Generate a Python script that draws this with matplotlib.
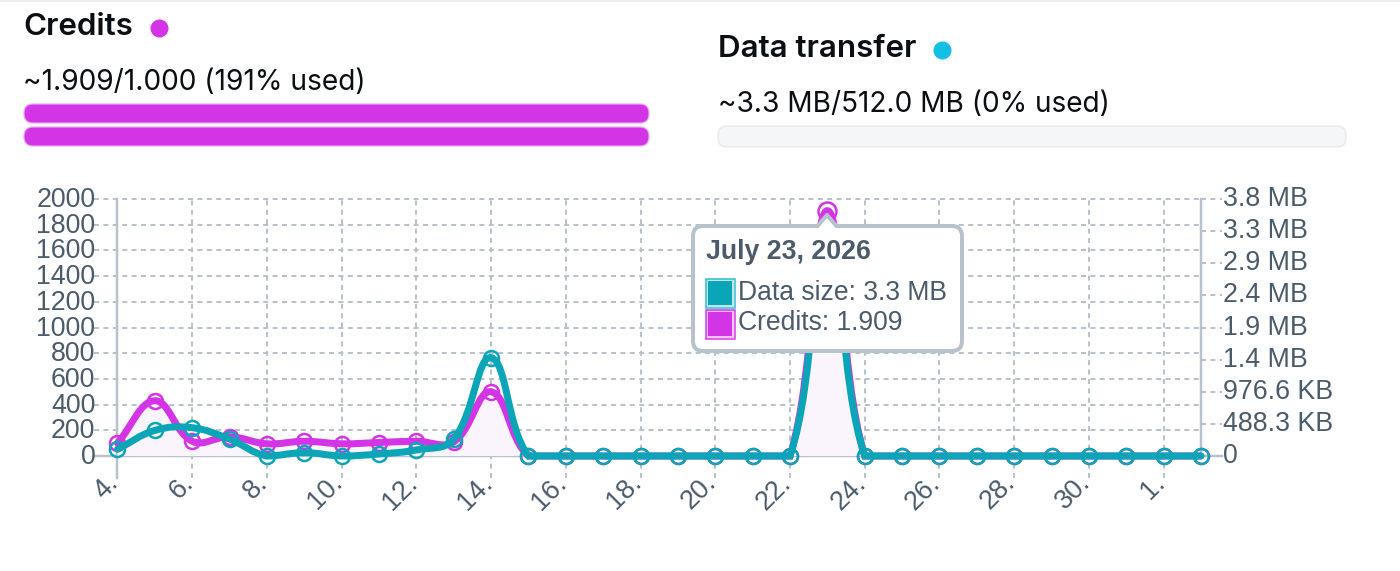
"""Usage dashboard: credits and data transfer, with a daily chart and tooltip."""
import matplotlib

matplotlib.use("Agg")
import matplotlib.pyplot as plt
import numpy as np
from matplotlib.patches import FancyBboxPatch, PathPatch, Polygon, Rectangle
from matplotlib.path import Path
from matplotlib.transforms import ScaledTranslation

W, H = 1400, 571
PX = 72 / 100  # one pixel in points at dpi 100

days = [4, 5, 6, 7, 8, 9, 10, 11, 12, 13, 14, 15, 16, 17, 18, 19, 20, 21, 22, 23,
        24, 25, 26, 27, 28, 29, 30, 31, 1, 2]
credits = [100, 430, 115, 150, 95, 115, 95, 105, 115, 110, 500, 0, 0, 0, 0, 0, 0, 0, 0, 1909,
           0, 0, 0, 0, 0, 0, 0, 0, 0, 0]
data_mb = [0.10, 0.38, 0.42, 0.25, 0.0, 0.05, 0.0, 0.03, 0.09, 0.25, 1.46, 0, 0, 0, 0, 0, 0, 0, 0, 3.3,
           0, 0, 0, 0, 0, 0, 0, 0, 0, 0]
left_ticks = [0, 200, 400, 600, 800, 1000, 1200, 1400, 1600, 1800, 2000]
right_ticks = [0, 0.4768, 0.9537, 1.4305, 1.9073, 2.3842, 2.861, 3.3379, 3.8147]
right_labels = ["0", "488.3 KB", "976.6 KB", "1.4 MB", "1.9 MB", "2.4 MB", "2.9 MB", "3.3 MB", "3.8 MB"]
hover_day = 23

MAGENTA = "#d334e6"
TEAL = "#0ba5b8"
CYAN = "#14bfe6"
GREY = "#b8c2cc"
TEXT = "#4b5b6b"
AX_L, AX_R, AX_T, AX_B = 117.5, 1201, 199, 456


def spline_path(ys, ymax):
    # same control points as a chart.js line with tension 0.4, capped at the baseline
    sx = (AX_R - AX_L) / (len(ys) - 1)
    sy = (AX_B - AX_T) / ymax
    xs = np.arange(len(ys), dtype=float)
    ys = np.array(ys, dtype=float)
    px, py = xs * sx, ys * sy
    verts = [(xs[0], ys[0])]
    codes = [Path.MOVETO]
    before, after = [None] * len(ys), [None] * len(ys)
    for i in range(len(ys)):
        a, b = max(i - 1, 0), min(i + 1, len(ys) - 1)
        d01 = np.hypot(px[i] - px[a], py[i] - py[a])
        d12 = np.hypot(px[b] - px[i], py[b] - py[i])
        tot = d01 + d12
        s01, s12 = d01 / tot, d12 / tot
        dx, dy = px[b] - px[a], py[b] - py[a]
        before[i] = ((px[i] - 0.4 * s01 * dx) / sx, max((py[i] - 0.4 * s01 * dy) / sy, 0))
        after[i] = ((px[i] + 0.4 * s12 * dx) / sx, max((py[i] + 0.4 * s12 * dy) / sy, 0))
    for i in range(len(ys) - 1):
        verts += [after[i], before[i + 1], (xs[i + 1], ys[i + 1])]
        codes += [Path.CURVE4] * 3
    return verts, codes


def nudge(labels, dx, dy):
    # shift tick labels by a few pixels
    for lab in labels:
        lab.set_transform(lab.get_transform() + ScaledTranslation(dx / 100, dy / 100, fig.dpi_scale_trans))


fig = plt.figure(figsize=(W / 100, H / 100), dpi=100, facecolor="white")
ax = fig.add_axes([AX_L / W, 1 - AX_B / H, (AX_R - AX_L) / W, (AX_B - AX_T) / H])
ax2 = ax.twinx()
ax.set_xlim(0, len(days) - 1)
ax.set_ylim(0, 2000)
ax2.set_ylim(0, 3.8147)
ax.patch.set_visible(False)
for a in (ax, ax2):
    for s in a.spines.values():
        s.set_visible(False)

x = np.arange(len(days))
dash = (0, (2.5, 2.2))

# grid and tick stubs
ax.set_yticks(left_ticks)
ax.set_yticklabels(left_ticks, fontfamily="Liberation Sans", fontsize=26.7 * PX, color=TEXT)
ax.tick_params(axis="y", length=0, pad=16)
nudge(ax.get_yticklabels(), 0, 2)
ax2.set_yticks(right_ticks)
ax2.set_yticklabels(right_labels, fontfamily="Liberation Sans", fontsize=26.7 * PX, color=TEXT)
ax2.tick_params(axis="y", length=0, pad=15.5)
nudge(ax2.get_yticklabels(), 0, 3)
trans_l = ax.get_yaxis_transform()
for v in left_ticks[1:]:
    ax.plot([-23 / (AX_R - AX_L), 1], [v, v], transform=trans_l, color=GREY, lw=2 * PX, ls=dash,
            clip_on=False, zorder=1)
trans_r = ax2.get_yaxis_transform()
for v in right_ticks[1:]:
    ax2.plot([1, 1 + 21 / (AX_R - AX_L)], [v, v], transform=trans_r, color=GREY, lw=2 * PX, ls=dash,
             clip_on=False, zorder=1)
ax.plot([-23 / (AX_R - AX_L), 1 + 21 / (AX_R - AX_L)], [0, 0], transform=trans_l, color=GREY,
        lw=2.5 * PX, clip_on=False, zorder=1)
below = -22 / (AX_B - AX_T)
trans_x = ax.get_xaxis_transform()
for i in x[2:-1:2]:
    ax.plot([i, i], [below, 1], transform=trans_x, color=GREY, lw=2 * PX, ls=dash, clip_on=False, zorder=1)
ax.plot([0, 0], [below, 1], transform=trans_x, color=GREY, lw=2.5 * PX, clip_on=False, zorder=1)
ax.plot([x[-1], x[-1]], [0, 1], transform=trans_x, color=GREY, lw=2.5 * PX, clip_on=False, zorder=1)

ax.set_xticks(x[::2])
ax.set_xticklabels([f"{d}." for d in days[::2]], rotation=45, ha="right", va="top",
                   rotation_mode="anchor", fontfamily="Liberation Sans", fontsize=27 * PX, color=TEXT)
ax.tick_params(axis="x", length=0, pad=20)
nudge(ax.get_xticklabels(), -12, 14)

# series
hover = days.index(hover_day)
rest = x != hover
verts, codes = spline_path(credits, 2000)
fill_v = verts + [(x[-1], 0), (0, 0), (0, 0)]
fill_c = codes + [Path.LINETO, Path.LINETO, Path.CLOSEPOLY]
ax.add_patch(PathPatch(Path(fill_v, fill_c), facecolor="#faf4fc", edgecolor="none", zorder=2))
ax.add_patch(PathPatch(Path(verts, codes), facecolor="none", edgecolor=MAGENTA, lw=7 * PX, zorder=3,
                       clip_on=False, capstyle="round"))
ax.plot(x[rest], np.array(credits)[rest], ls="none", marker="o", ms=15 * PX, mfc="none", mec=MAGENTA,
        mew=2.5 * PX, clip_on=False, zorder=4)
ax.plot(x[hover], credits[hover], ls="none", marker="o", ms=18 * PX, mfc="white", mec=MAGENTA, mew=2.5 * PX,
        clip_on=False, zorder=2.5)

ax2.patch.set_visible(False)
verts, codes = spline_path(data_mb, 3.8147)
ax2.add_patch(PathPatch(Path(verts, codes), facecolor="none", edgecolor=TEAL, lw=7 * PX, zorder=5,
                        clip_on=False, capstyle="round"))
ax2.plot(x, data_mb, ls="none", marker="o", ms=15 * PX, mfc="none", mec=TEAL, mew=2.5 * PX,
         clip_on=False, zorder=6)

# everything else sits on a full-figure layer in pixel coordinates
ov = fig.add_axes([0, 0, 1, 1], zorder=10)
ov.set_xlim(0, W)
ov.set_ylim(H, 0)
ov.axis("off")
ov.patch.set_visible(False)
ov.plot([0, W], [0.5, 0.5], color="#eceef0", lw=2 * PX)

head = dict(family="Inter", color="#0b0f14", va="center")
ov.text(23, 27, "Credits", fontsize=31.3 * PX, fontweight="semibold", **head)
ov.plot(159, 28, "o", ms=18 * PX, color=MAGENTA, mew=0)
ov.text(23, 82, "~1.909/1.000 (191% used)", fontsize=28.2 * PX, **head)
ov.text(718, 49, "Data transfer", fontsize=31.3 * PX, fontweight="semibold", **head)
ov.plot(942, 50, "o", ms=18 * PX, color=CYAN, mew=0)
ov.text(718, 104, "~3.3 MB/512.0 MB (0% used)", fontsize=28 * PX, **head)


def bar(x0, x1, y0, y1, fc, ec):
    ov.add_patch(FancyBboxPatch((x0 + 9, y0 + 9), x1 - x0 - 18, y1 - y0 - 18,
                                boxstyle="round,pad=9,rounding_size=9", fc=fc, ec=ec, lw=1.2 * PX))


bar(24, 649, 104, 123, MAGENTA, "#e9a8f2")
bar(24, 649, 127, 146, MAGENTA, "#e9a8f2")
bar(718, 1346, 126, 147, "#f5f6f8", "#e4e7eb")

# tooltip
ov.add_patch(FancyBboxPatch((703, 236), 249, 105, boxstyle="round,pad=10,rounding_size=10",
                            fc="white", ec=GREY, lw=4 * PX, zorder=20))
ov.add_patch(Polygon([(815, 229), (827, 215), (839, 229)], closed=False, fc="white", ec=GREY,
                     lw=4 * PX, joinstyle="round", zorder=21))
ov.add_patch(Rectangle((813, 228), 28, 5, fc="white", ec="none", zorder=22))
ov.text(706, 252, "July 23, 2026", family="Liberation Sans", fontweight="bold", fontsize=26.8 * PX,
        color=TEXT, va="center", zorder=23)
ov.add_patch(Rectangle((707, 280), 26, 26, fc=TEAL, ec="#bfe6ea", lw=2 * PX, zorder=23))
ov.add_patch(Rectangle((705.5, 278.5), 29, 29, fc="none", ec="#2cbccd", lw=1.5 * PX, zorder=23))
ov.text(738, 292.5, "Data size: 3.3 MB", family="Liberation Sans", fontsize=26.5 * PX, color=TEXT,
        va="center", zorder=23)
ov.add_patch(Rectangle((707, 311), 26, 26, fc=MAGENTA, ec="#f1c3f7", lw=2 * PX, zorder=23))
ov.add_patch(Rectangle((705.5, 309.5), 29, 29, fc="none", ec=MAGENTA, lw=1.5 * PX, zorder=23))
ov.text(738, 323.5, "Credits: 1.909", family="Liberation Sans", fontsize=26.5 * PX, color=TEXT,
        va="center", zorder=23)

fig.savefig("out.png", dpi=100)
